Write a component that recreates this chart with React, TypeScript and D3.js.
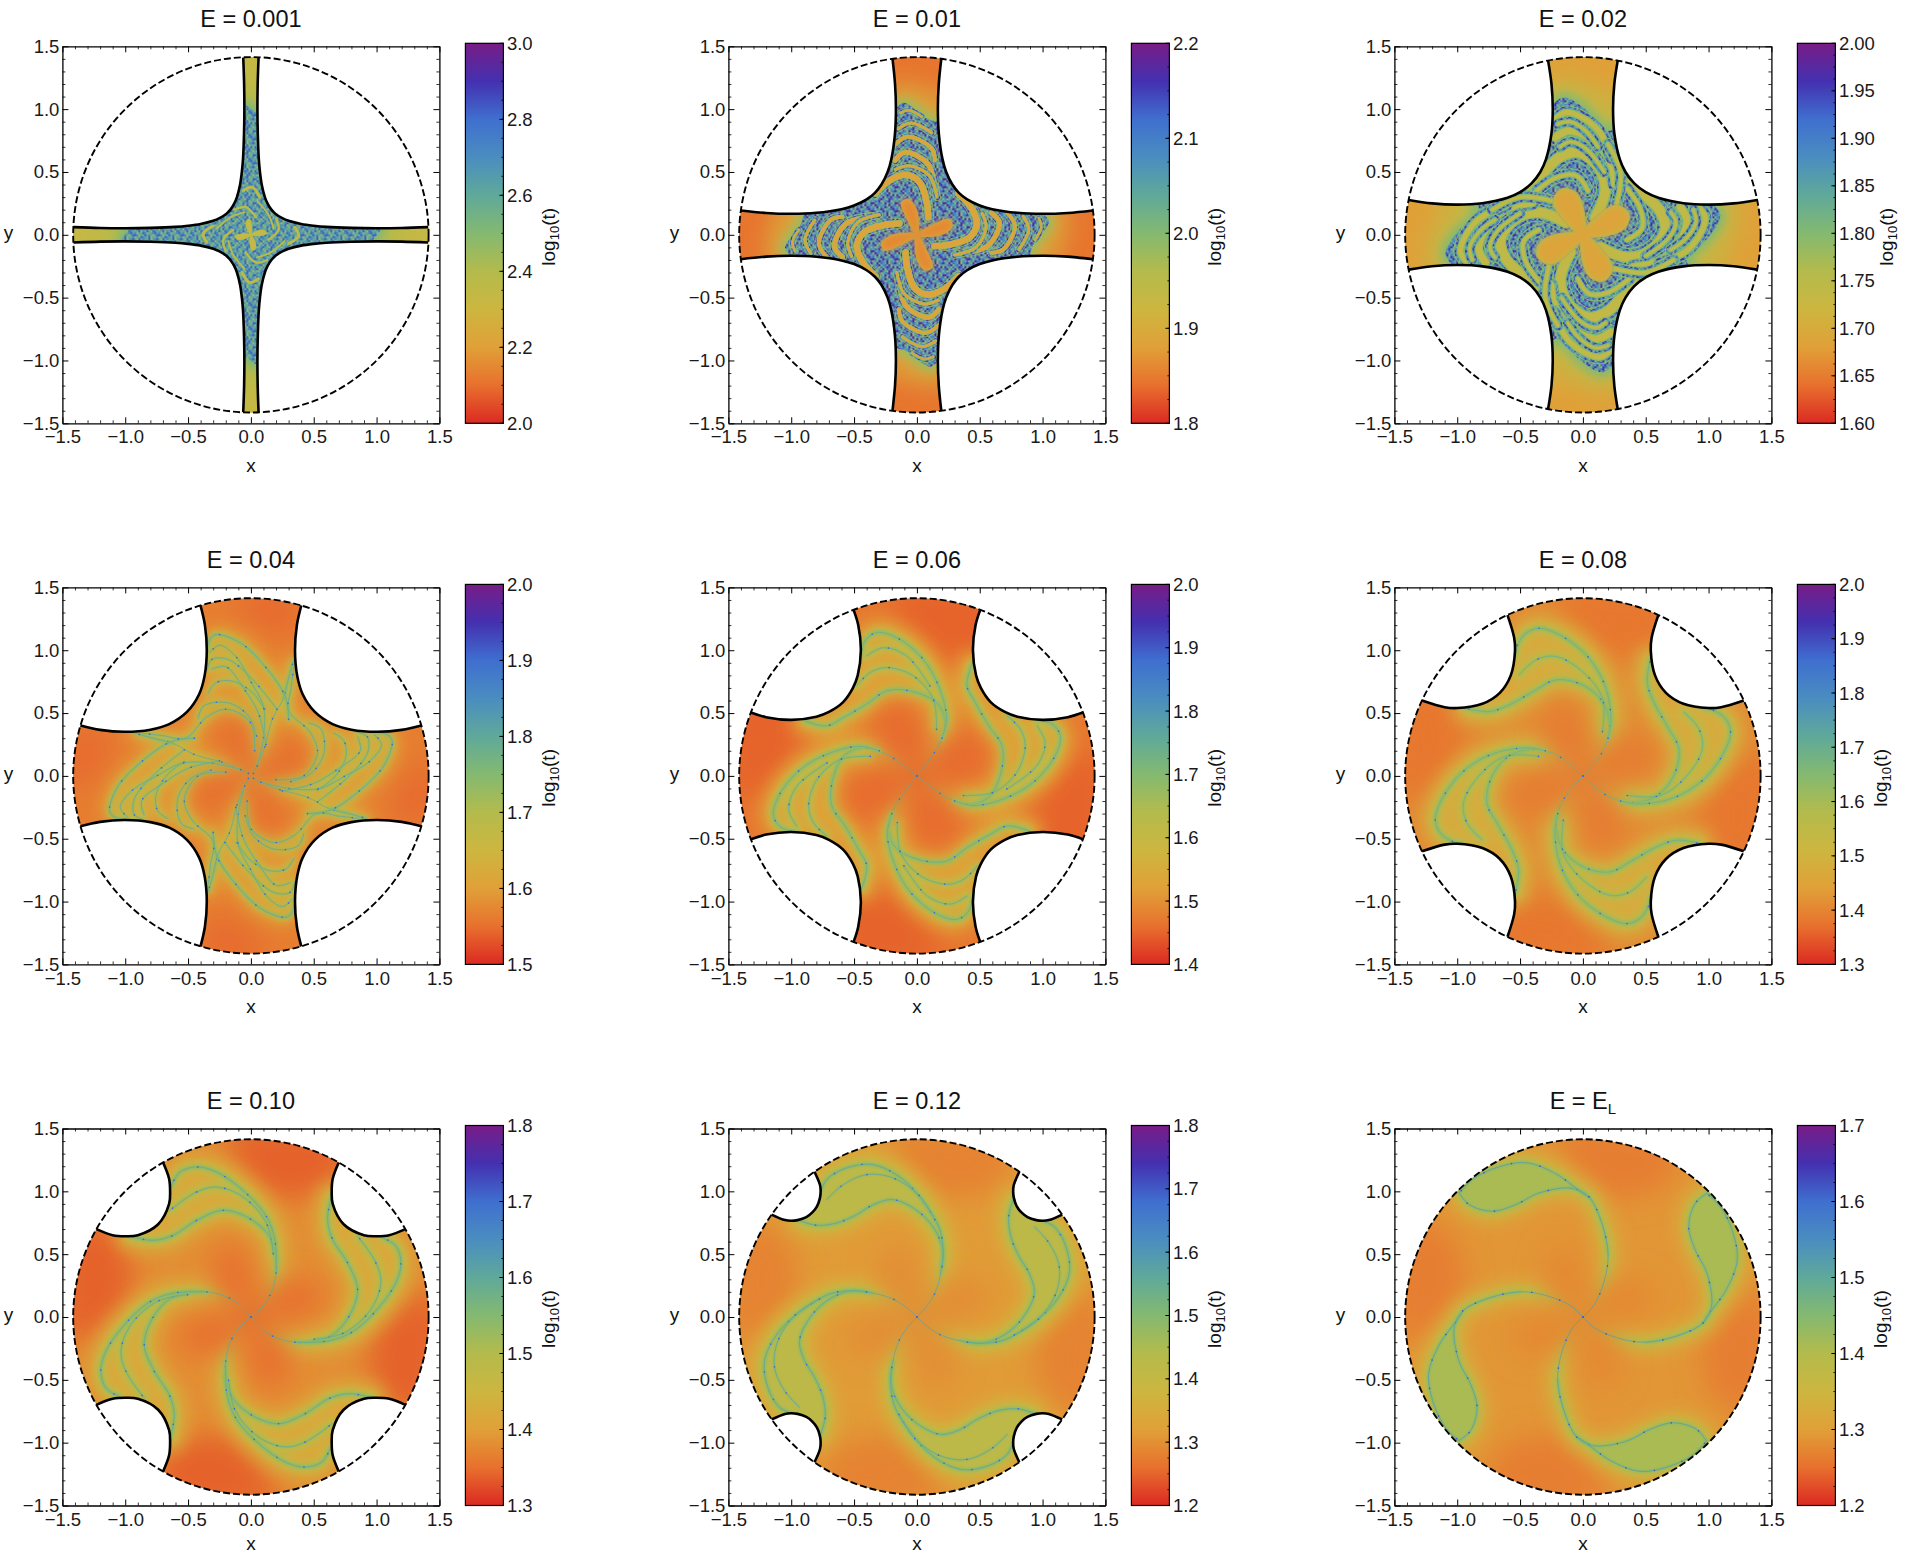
import React, { useRef, useEffect } from 'react';
import * as d3 from 'd3';

type Pt = [number, number];

// rainbow colour bar, bottom to top
const rainbowStops = ['#db2a22', '#e8702e', '#e0a038', '#cdb640', '#b3bb4c', '#84b970', '#5fa99a', '#4a8dc0', '#3f6fcf', '#4430b0', '#781c86'];

const titles = ['E = 0.001', 'E = 0.01', 'E = 0.02', 'E = 0.04', 'E = 0.06', 'E = 0.08', 'E = 0.10', 'E = 0.12', 'E = E'];
const barDomains: Pt[] = [[2, 3], [1.8, 2.2], [1.6, 2], [1.5, 2], [1.4, 2], [1.3, 2], [1.3, 1.8], [1.2, 1.8], [1.2, 1.7]];
const barSteps = [0.2, 0.1, 0.05, 0.1, 0.1, 0.1, 0.1, 0.1, 0.1];
const axisMajor = [-1.5, -1, -0.5, 0, 0.5, 1, 1.5];
const axisMinor = d3.range(-15, 16).filter(d => d % 5 !== 0).map(d => d / 10);

// zero velocity curves: half of the top right corner, circle end to diagonal
const zvc001: Pt[] = [[1.41, 0.061], [1.2, 0.054], [1, 0.052], [0.8, 0.055], [0.6, 0.063], [0.5, 0.072], [0.4, 0.086], [0.3, 0.111], [0.25, 0.132], [0.2, 0.163], [0.181, 0.181]];
const zvc01: Pt[] = [[1.4, 0.194], [1.2, 0.174], [1, 0.167], [0.8, 0.175], [0.6, 0.204], [0.5, 0.233], [0.4, 0.282], [0.334, 0.334]];
const zvc02: Pt[] = [[1.386, 0.277], [1.2, 0.25], [1, 0.24], [0.8, 0.251], [0.6, 0.294], [0.5, 0.339], [0.409, 0.409]];
const zvc04: Pt[] = [[1.356, 0.401], [1.2, 0.366], [1, 0.351], [0.8, 0.368], [0.65, 0.412], [0.509, 0.509]];
const zvc06: Pt[] = [[1.321, 0.504], [1.2, 0.467], [1, 0.446], [0.8, 0.471], [0.7, 0.509], [0.587, 0.587]];
const zvc08: Pt[] = [[1.28, 0.6], [1.1, 0.547], [1, 0.54], [0.8, 0.574], [0.661, 0.661]];
const zvc10: Pt[] = [[1.229, 0.699], [1.1, 0.651], [1, 0.643], [0.9, 0.651], [0.738, 0.738]];
const zvc12: Pt[] = [[1.156, 0.815], [1.05, 0.771], [1, 0.766], [0.95, 0.771], [0.88, 0.795], [0.832, 0.832]];

// chaotic saddle region of the right arm
const region001: Pt[] = [[-0.1, 0], [0, 0.7], [0.6, 0.4], [0.95, 0.12], [1.03, 0.05], [0.98, -0.03], [0.93, -0.1], [0.6, -0.4], [0, -0.7]];
const region01: Pt[] = [[-0.1, 0], [0, 0.7], [0.6, 0.6], [0.9, 0.3], [0.99, 0.18], [1.05, 0.11], [0.99, 0], [0.92, -0.09], [0.89, -0.2], [0.6, -0.6], [0, -0.7]];
const region02: Pt[] = [[-0.1, 0], [0, 0.7], [0.6, 0.7], [0.9, 0.45], [1.013, 0.27], [1.093, 0.154], [1, -0.019], [0.88, -0.125], [0.828, -0.218], [0.894, -0.3], [0.6, -0.7], [0, -0.7]];

// regular bands crossing the chaotic region
const bands001: Pt[][] = [
  [[0.35, 0.06], [0.38, -0.01], [0.3, -0.07]],
  [[0.14, -0.04], [0.22, 0.04], [0.2, 0.13]],
  [[0.27, -0.05], [0.16, -0.14], [0.05, -0.18]],
];
const bands01: Pt[][] = [
  [[0.33, 0.33], [0.43, 0.22], [0.477, 0.09], [0.42, -0.02], [0.25, -0.08], [0.14, -0.09]],
  [[0.593, 0.175], [0.656, 0.095], [0.562, -0.09], [0.342, -0.143]],
  [[0.719, 0.175], [0.78, 0.069], [0.687, -0.117], [0.593, -0.143]],
  [[0.844, 0.149], [0.89, 0.042], [0.813, -0.117]],
  [[0.52, 0.17], [0.55, 0.06], [0.47, -0.1], [0.3, -0.16]],
  [[0.97, 0.13], [0.99, 0.06], [0.94, -0.04]],
];
const bands02: Pt[][] = [
  [[0.138, -0.098], [0.35, -0.178], [0.536, -0.125], [0.655, 0.034], [0.615, 0.188], [0.456, 0.347], [0.39, 0.42]],
  [[0.403, -0.257], [0.615, -0.204], [0.775, -0.045], [0.828, 0.114], [0.775, 0.22]],
  [[0.615, -0.23], [0.828, -0.125], [0.947, 0.034], [0.973, 0.14], [0.92, 0.22]],
  [[0.35, -0.04], [0.47, 0.05], [0.46, 0.2], [0.35, 0.37]],
  [[0.25, -0.27], [0.5, -0.3], [0.72, -0.2]],
  [[0.7, 0.18], [0.74, 0.1], [0.68, -0.03], [0.5, -0.17]],
  [[0.88, 0.2], [0.9, 0.1], [0.82, -0.03], [0.7, -0.12]],
];

// petals at the centre
const petal001: Pt[] = [[0, 0], [0.06, 0.035], [0.11, 0.035], [0.125, 0.012], [0.06, -0.008]];
const petal01: Pt[] = [[0, 0], [0.146, 0.085], [0.255, 0.122], [0.28, 0.07], [0.215, 0.012], [0.06, -0.012]];
const petal02: Pt[] = [[0, 0], [0.138, 0.167], [0.27, 0.233], [0.363, 0.167], [0.337, 0.061], [0.19, -0.005]];
const petal04: Pt[] = [[0, 0], [0.207, 0.159], [0.418, 0.225], [0.466, 0.132], [0.369, 0.026], [0.143, -0.013]];
const pinwheel: Pt[] = [[0, 0], [0.2, 0.27], [0.5, 0.28], [0.58, 0.12], [0.35, 0]];

// darker patch where the arm meets the circle
const armEnd: Pt[] = [[1.46, 0.2], [1.4, -0.75], [1.05, -0.65], [0.95, -0.2], [1.15, 0.05]];
const armEnd04: Pt[] = [[1.44, 0.15], [1.42, -0.36], [1.12, -0.32], [1.22, -0.05]];
const armEndChaos: Pt[] = [[1.45, 0.3], [1.45, -0.3], [1.25, -0.3], [1.2, 0.3]];

// filaments of one arm: first the strand from the centre, then the outer loop
const strands04: Pt[][] = [
  [[0.02, -0.02], [0.2, -0.1], [0.45, -0.17], [0.62, -0.26], [0.78, -0.3], [0.92, -0.34]],
  [[0.45, -0.3], [0.635, -0.272], [0.874, -0.11], [1.059, 0.084], [1.125, 0.279], [1.086, 0.327], [0.92, 0.36]],
  [[0.53, -0.207], [0.768, -0.013], [0.927, 0.181], [0.927, 0.311], [0.84, 0.35]],
  [[0.53, -0.11], [0.662, -0.013], [0.755, 0.149], [0.741, 0.279], [0.66, 0.34]],
  [[0.318, -0.045], [0.477, 0.019], [0.582, 0.181], [0.556, 0.376], [0.46, 0.42]],
  [[0.2, -0.03], [0.42, 0], [0.53, 0.185], [0.47, 0.35], [0.3, 0.52], [0.32, 0.7], [0.34, 0.86]],
  [[0.08, -0.05], [0.3, -0.1], [0.55, -0.1], [0.75, 0], [0.95, 0.12], [1.04, 0.25], [0.98, 0.33]],
  [[0.25, -0.12], [0.5, -0.06], [0.7, 0.06], [0.87, 0.2], [0.85, 0.31]],
];
const strands06: Pt[][] = [
  [[0, 0], [0.133, -0.103], [0.265, -0.183], [0.451, -0.223], [0.584, -0.156], [0.676, 0.056], [0.676, 0.241], [0.57, 0.401], [0.464, 0.586], [0.398, 0.719], [0.438, 0.891]],
  [[0.3, -0.2], [0.451, -0.236], [0.69, -0.183], [0.928, -0.05], [1.101, 0.162], [1.141, 0.321], [1.074, 0.414], [0.955, 0.446]],
  [[0.371, -0.156], [0.61, -0.13], [0.796, 0.029], [0.862, 0.241], [0.822, 0.374], [0.716, 0.48]],
  [[0.716, -0.103], [0.955, 0.082], [1.02, 0.268], [0.955, 0.4]],
];
const strands08: Pt[][] = [
  [[0, 0], [0.114, -0.103], [0.247, -0.183], [0.432, -0.21], [0.592, -0.156], [0.724, 0.003], [0.764, 0.215], [0.684, 0.374], [0.565, 0.586], [0.512, 0.745], [0.538, 0.931]],
  [[0.3, -0.2], [0.432, -0.223], [0.698, -0.183], [0.936, -0.05], [1.109, 0.162], [1.175, 0.347], [1.135, 0.454], [1.042, 0.52], [0.963, 0.538]],
  [[0.353, -0.156], [0.618, -0.156], [0.83, 0.003], [0.95, 0.215], [0.923, 0.374], [0.804, 0.507]],
];
const strands10: Pt[][] = [
  [[0, 0], [0.106, -0.111], [0.239, -0.178], [0.451, -0.204], [0.637, -0.151], [0.782, 0.008], [0.849, 0.22], [0.769, 0.432], [0.65, 0.618], [0.61, 0.777], [0.642, 0.963]],
  [[0.35, -0.2], [0.61, -0.191], [0.796, -0.125], [0.981, 0.034], [1.154, 0.273], [1.194, 0.432], [1.154, 0.565], [1.048, 0.631]],
  [[0.504, -0.178], [0.743, -0.125], [0.955, 0.061], [1.034, 0.273], [0.995, 0.432], [0.849, 0.645]],
];
const strands12: Pt[][] = [
  [[0, 0], [0.085, -0.077], [0.19, -0.143], [0.35, -0.19], [0.536, -0.204], [0.695, -0.143], [0.84, -0.01], [0.934, 0.188], [0.894, 0.347], [0.814, 0.48], [0.748, 0.639], [0.73, 0.798], [0.77, 0.944]],
  [[0.4, -0.2], [0.51, -0.21], [0.695, -0.183], [0.88, -0.077], [1.093, 0.109], [1.212, 0.347], [1.186, 0.56], [1.093, 0.719], [1, 0.764]],
  [[0.775, -0.143], [0.96, -0.024], [1.106, 0.188], [1.133, 0.4], [1.053, 0.586], [0.934, 0.719]],
];
const strandsEL: Pt[][] = [
  [[0, 0], [0.093, -0.087], [0.278, -0.167], [0.493, -0.201], [0.74, -0.153], [0.956, -0.048], [1.024, 0.085], [0.987, 0.349], [0.894, 0.534], [0.842, 0.72], [0.894, 0.905], [0.987, 0.984]],
  [[0.956, -0.048], [0.987, 0.005], [1.141, 0.217], [1.228, 0.455], [1.187, 0.693], [1.095, 0.878], [0.987, 0.984]],
];

// log10(t) levels of each panel, read against its colour bar
const chaosLevels = [
  { base: 2.36, dark: 2.33, petal: 2.33, band: 2.35, edge: 2.48, halo: 2.4, halo2: 2.52 },
  { base: 1.856, dark: 1.844, petal: 1.86, band: 1.888, edge: 1.98, halo: 1.9, halo2: 1.98 },
  { base: 1.692, dark: 1.68, petal: 1.688, band: 1.74, edge: 1.8, halo: 1.74, halo2: 1.8 },
];
const speckleLevels = [[2.62, 2.82, 2.58, 2.47, 2.72], [2.08, 2.18, 2.04, 2, 2.12], [1.88, 1.97, 1.84, 1.8, 1.92]];
const speckleTile = [
  '031240213041', '204130421302', '120342014213', '413021340120', '032410231403', '240132041320',
  '102403124031', '314020431204', '021342103142', '430214320410', '143021042301', '302140213024',
];
const filamentLevels = [
  { base: 1.565, dark: 1.545, centre: 1.545, halo: 1.605, lobe: 1.565, band: 1.74, core: 1.8, dot: 1.9 },
  { base: 1.47, dark: 1.45, centre: 1.455, halo: 1.525, lobe: 1.5, band: 1.68, core: 1.75, dot: 1.88 },
  { base: 1.41, dark: 1.38, centre: 1.385, halo: 1.475, lobe: 1.44, band: 1.63, core: 1.7, dot: 1.86 },
  { base: 1.38, dark: 1.34, centre: 1.35, halo: 1.42, lobe: 1.4, band: 1.54, core: 1.6, dot: 1.7 },
  { base: 1.314, dark: 1.284, centre: 1.296, halo: 1.368, lobe: 1.42, band: 1.5, core: 1.57, dot: 1.68 },
  { base: 1.29, dark: 1.265, centre: 1.275, halo: 1.335, lobe: 1.41, band: 1.46, core: 1.52, dot: 1.61 },
];

const chaosParts = [
  { zvc: zvc001, region: region001, bands: bands001, petal: petal001, scale: 0.22 },
  { zvc: zvc01, region: region01, bands: bands01, petal: petal01, scale: 0.5 },
  { zvc: zvc02, region: region02, bands: bands02, petal: petal02, scale: 0.85 },
];
const filamentParts = [
  { zvc: zvc04, strands: strands04, petal: petal04, end: armEnd04, haloW: 16, bandW: 3.5, lobeFrom: 99, lobeBlur: 8 },
  { zvc: zvc06, strands: strands06, petal: pinwheel, end: armEnd, haloW: 26, bandW: 5.5, lobeFrom: 5, lobeBlur: 8 },
  { zvc: zvc08, strands: strands08, petal: pinwheel, end: armEnd, haloW: 28, bandW: 5, lobeFrom: 5, lobeBlur: 8 },
  { zvc: zvc10, strands: strands10, petal: pinwheel, end: armEnd, haloW: 28, bandW: 4.5, lobeFrom: 5, lobeBlur: 5 },
  { zvc: zvc12, strands: strands12, petal: pinwheel, end: armEnd, haloW: 24, bandW: 3.5, lobeFrom: 6, lobeBlur: 3 },
  { zvc: null, strands: strandsEL, petal: pinwheel, end: armEnd, haloW: 24, bandW: 2.2, lobeFrom: 5, lobeBlur: 1.2 },
];

const bandWidths = [11, 8, 6, 4, 4, 3, 3];
const colLeft = [62.4, 728.4, 1394.4];
const rowTop = [46.3, 587.4, 1128.5];
const size = 377;
const fontFamily = '"Liberation Sans", Arial, sans-serif';

const rotations = [
  ([x, y]: Pt): Pt => [x, y],
  ([x, y]: Pt): Pt => [-y, x],
  ([x, y]: Pt): Pt => [-x, -y],
  ([x, y]: Pt): Pt => [y, -x],
];

const Chart: React.FC = () => {
  const svgRef = useRef<SVGSVGElement | null>(null);

  useEffect(() => {
    const svg = d3.select(svgRef.current);
    svg.selectAll('*').remove();
    svg.style('font-family', fontFamily);

    const defs = svg.append('defs');
    [0.6, 1.2, 3, 5, 8, 14].forEach(s => {
      defs.append('filter').attr('id', `blur${String(s).replace('.', '_')}`)
        .attr('x', '-30%').attr('y', '-30%').attr('width', '160%').attr('height', '160%')
        .append('feGaussianBlur').attr('stdDeviation', s);
    });
    const blur = (s: number) => `url(#blur${String(s).replace('.', '_')})`;

    const bar = defs.append('linearGradient').attr('id', 'rainbow')
      .attr('x1', 0).attr('y1', 1).attr('x2', 0).attr('y2', 0);
    rainbowStops.forEach((c, i) => {
      bar.append('stop').attr('offset', i / (rainbowStops.length - 1)).attr('stop-color', c);
    });

    const x = d3.scaleLinear().domain([-1.5, 1.5]).range([0, size]);
    const y = d3.scaleLinear().domain([-1.5, 1.5]).range([size, 0]);
    const line = d3.line<Pt>().x(d => x(d[0])).y(d => y(d[1])).curve(d3.curveCatmullRom);
    const closed = d3.line<Pt>().x(d => x(d[0])).y(d => y(d[1])).curve(d3.curveCatmullRomClosed);

    titles.forEach((title, i) => {
      const col = i % 3;
      const row = Math.floor(i / 3);
      const left = colLeft[col];
      const top = rowTop[row];
      const g = svg.append('g').attr('transform', `translate(${left},${top})`);
      const [vMin, vMax] = barDomains[i];
      const color = d3.scaleLinear<string>()
        .domain(rainbowStops.map((_, k) => vMin + (vMax - vMin) * k / (rainbowStops.length - 1)))
        .range(rainbowStops);

      defs.append('clipPath').attr('id', `disc${i}`).append('circle')
        .attr('cx', x(0)).attr('cy', y(0)).attr('r', x(Math.SQRT2) - x(0));
      const field = g.append('g').attr('clip-path', `url(#disc${i})`);

      // same shape four times, one for each arm
      const layer = (shapes: Pt[][], gen: d3.Line<Pt>, attrs: Record<string, string | number>, filter?: number) => {
        const l = field.append('g');
        if (filter) l.attr('filter', blur(filter));
        shapes.forEach(shape => {
          rotations.forEach(rot => {
            const p = l.append('path').attr('d', gen(shape.map(rot)));
            Object.entries(attrs).forEach(([k, v]) => p.attr(k, v));
          });
        });
      };
      const open = (stroke: string, w: number, extra: Record<string, string | number> = {}) => (
        { fill: 'none', stroke, 'stroke-width': w, 'stroke-linecap': 'round', ...extra }
      );

      let zvc: Pt[] | null;
      if (i < 3) {
        const lv = chaosLevels[i];
        const part = chaosParts[i];
        zvc = part.zvc;
        field.append('rect').attr('width', size).attr('height', size).attr('fill', color(lv.base));
        layer([armEndChaos], closed, { fill: color(lv.dark) }, 8);
        layer([part.region], closed, { fill: color(lv.halo), stroke: color(lv.halo), 'stroke-width': 34 }, 14);
        layer([part.region], closed, { fill: color(lv.halo2), stroke: color(lv.halo2), 'stroke-width': 10 }, 5);

        const px = 2;
        const tile = defs.append('pattern').attr('id', `speckle${i}`).attr('patternUnits', 'userSpaceOnUse')
          .attr('width', speckleTile.length * px).attr('height', speckleTile.length * px);
        speckleTile.forEach((rowText, r) => {
          rowText.split('').forEach((ch, c) => {
            tile.append('rect').attr('x', c * px).attr('y', r * px).attr('width', px).attr('height', px)
              .attr('fill', color(speckleLevels[i][+ch]));
          });
        });
        const speckle = `url(#speckle${i})`;
        layer([part.region], closed, { fill: speckle });

        // each band: a faint outer line, speckle, a green rim, then the band itself
        const sc = part.scale;
        part.bands.forEach((b, k) => {
          const w = bandWidths[k] * sc;
          if (i > 0) {
            layer([b], line, open(color(lv.edge), w + 11 * sc));
            layer([b], line, open(speckle, w + 8.5 * sc));
          }
          layer([b], line, open(color(lv.edge), w + 3 * sc));
          layer([b], line, open(color(lv.band), w), 0.6);
        });
        layer([part.petal], closed, { fill: color(lv.edge), stroke: color(lv.edge), 'stroke-width': 2 * sc + 0.5 }, 0.6);
        layer([part.petal], closed, { fill: color(lv.band) });
        layer([part.petal], closed, { fill: color(lv.petal) }, i === 0 ? 0.6 : 3);
      } else {
        const lv = filamentLevels[i - 3];
        const part = filamentParts[i - 3];
        zvc = part.zvc;
        field.append('rect').attr('width', size).attr('height', size).attr('fill', color(lv.base));
        layer([part.end], closed, { fill: color(lv.dark) }, 14);
        const lobe = [...part.strands[0].slice(part.lobeFrom), ...part.strands[1].slice(2).reverse()];
        const hasLobe = part.lobeFrom < part.strands[0].length;
        if (hasLobe && i < 7) layer([lobe], closed, { fill: color(lv.lobe) }, part.lobeBlur);
        layer(part.strands, line, open(color(lv.halo), part.haloW), 8);
        layer(part.strands, line, open(color((lv.halo + lv.band) / 2), part.haloW * 0.38), 3);
        layer([part.petal], closed, { fill: color(lv.centre) }, 14);
        if (hasLobe && i >= 7) layer([lobe], closed, { fill: color(lv.lobe) }, part.lobeBlur);
        part.strands.forEach((s, k) => {
          const w = k < 2 ? part.bandW : part.bandW * 0.5;
          const body = k === 0 ? s.slice(3) : s;
          layer([body], line, open(color(lv.band), w, { 'stroke-opacity': 0.85 }), 1.2);
          layer([s], line, open(color(lv.core), 0.9, { 'stroke-opacity': 0.8 }));
          layer([s], line, open(color(lv.dot), 1.7, { 'stroke-dasharray': '0.01 29' }));
        });
      }

      // forbidden corners and their black boundary
      if (zvc) {
        const half = zvc;
        const corner = [...half, ...half.slice(0, -1).reverse().map(([a, b]) => [b, a] as Pt)];
        rotations.forEach(rot => {
          const pts = corner.map(rot);
          const out = rot([1.7, 1.7]);
          g.append('path').attr('d', `${line(pts)}L${x(out[0])},${y(out[1])}Z`).attr('fill', '#fff');
          g.append('path').attr('d', line(pts)).attr('fill', 'none').attr('stroke', '#000').attr('stroke-width', 2.6);
        });
      }
      g.append('circle').attr('cx', x(0)).attr('cy', y(0)).attr('r', x(Math.SQRT2) - x(0))
        .attr('fill', 'none').attr('stroke', '#000').attr('stroke-width', 1.9).attr('stroke-dasharray', '7 3');

      // frame, all four sides ticked, labels on two
      const sides: [any, number, number, boolean][] = [
        [d3.axisBottom(x), 0, size, true],
        [d3.axisTop(x), 0, 0, false],
        [d3.axisLeft(y), 0, 0, true],
        [d3.axisRight(y), size, 0, false],
      ];
      sides.forEach(([axis, dx, dy, labelled], s) => {
        const major = g.append('g').attr('transform', `translate(${dx},${dy})`).call(
          axis.tickValues(axisMajor).tickSizeInner(-6).tickSizeOuter(0)
            .tickPadding(s === 0 ? 7 : 3).tickFormat(labelled ? d3.format('.1f') : () => ''),
        );
        major.selectAll('text').attr('font-size', 18.5).attr('fill', '#1a1a1a').attr('font-family', fontFamily);
        major.selectAll('line').attr('stroke', '#000');
        const minor = g.append('g').attr('transform', `translate(${dx},${dy})`).call(
          axis.tickValues(axisMinor).tickSizeInner(-3).tickSizeOuter(0).tickFormat(() => ''),
        );
        minor.selectAll('line').attr('stroke', '#000').attr('stroke-width', 0.8);
        minor.select('.domain').remove();
        major.select('.domain').attr('stroke', '#000').attr('stroke-width', 1.3);
      });

      // title and axis names
      const t = g.append('text').attr('x', size / 2).attr('y', -19.5).attr('text-anchor', 'middle')
        .attr('font-size', 23.5).attr('fill', '#111').text(title);
      if (i === 8) t.append('tspan').attr('font-size', 15).attr('dy', 5).text('L');
      g.append('text').attr('x', size / 2).attr('y', size + (row === 2 ? 44.5 : 49)).attr('text-anchor', 'middle')
        .attr('font-size', 19).attr('fill', '#111').text('x');
      g.append('text').attr('x', -54).attr('y', size / 2 + 4).attr('text-anchor', 'middle')
        .attr('font-size', 19).attr('fill', '#111').text('y');

      // colour bar
      const barLeft = size + 26;
      const barW = 38;
      const barScale = d3.scaleLinear().domain([vMin, vMax]).range([size, -3]);
      const barG = g.append('g').attr('transform', `translate(${barLeft},0)`);
      barG.append('rect').attr('x', 0).attr('y', -3).attr('width', barW).attr('height', size + 3)
        .attr('fill', 'url(#rainbow)').attr('stroke', '#000').attr('stroke-width', 1.2);
      const n = Math.round((vMax - vMin) / barSteps[i]);
      const barMajor = d3.range(n + 1).map(k => vMin + k * barSteps[i]);
      const barMinor = d3.range(n * 4 + 1).map(k => vMin + k * barSteps[i] / 4);
      barMinor.forEach(v => {
        barG.append('line').attr('x1', barW).attr('x2', barW - 2).attr('y1', barScale(v)).attr('y2', barScale(v))
          .attr('stroke', '#000').attr('stroke-width', 0.8);
      });
      const barFormat = d3.format(barSteps[i] < 0.1 ? '.2f' : '.1f');
      barMajor.forEach(v => {
        barG.append('line').attr('x1', barW).attr('x2', barW - 4).attr('y1', barScale(v)).attr('y2', barScale(v))
          .attr('stroke', '#000');
        barG.append('text').attr('x', barW + 3.5).attr('y', barScale(v)).attr('dy', '0.36em')
          .attr('font-size', 18.5).attr('fill', '#1a1a1a').text(barFormat(v));
      });
      const nameX = size + 116 + (barSteps[i] < 0.1 ? 6 : 0);
      const name = g.append('text')
        .attr('transform', `translate(${nameX},${size / 2 + 2}) rotate(-90)`)
        .attr('text-anchor', 'middle').attr('font-size', 19).attr('fill', '#111').text('log');
      name.append('tspan').attr('font-size', 13).attr('dy', 4).text('10');
      name.append('tspan').attr('dy', -4).text('(t)');
    });
  }, []);

  return (
    <svg ref={svgRef} width={1908} height={1554}
      style={{ position: 'absolute', left: 0, top: 0, display: 'block', background: '#fff' }} />
  );
};

export default function App() {
  return <Chart />;
}
